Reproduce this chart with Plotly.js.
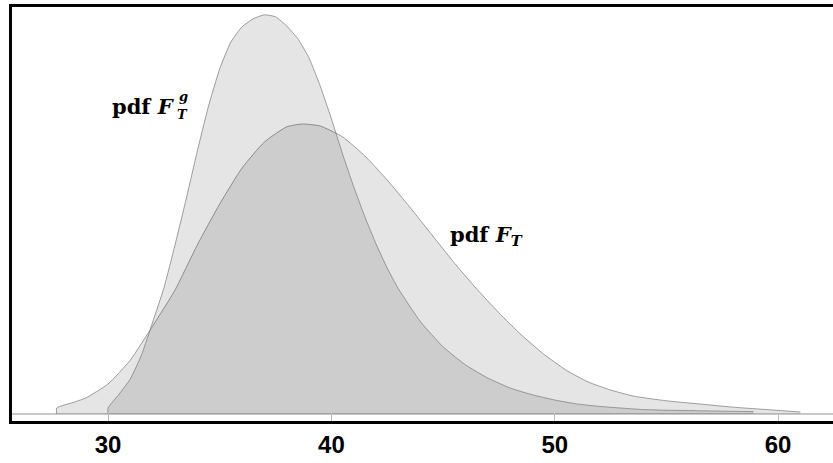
<!DOCTYPE html>
<html>
<head>
<meta charset="utf-8">
<script src="https://cdn.plot.ly/plotly-3.0.1.min.js"></script>
<style>html,body{margin:0;padding:0;background:#fff;}#chart{width:833px;height:463px;}</style>
</head>
<body>
<div id="chart"></div>
<script>
// pdf F_T (wide curve)
const xFT = [27.7, 27.7, 28.5, 29, 30, 31, 32, 33, 34, 35, 36, 37, 38, 38.7, 39.5, 40.5, 41.5, 42.5, 43.5, 44.5, 45.5, 46.5, 47.5, 48.5, 49.5, 50.5, 51.5, 52.5, 53.5, 55, 56.5, 58, 59.5, 61];
const yFT = [0, .0015, .003, .004, .0075, .0135, .022, .031, .0423, .0525, .0615, .068, .0718, .0725, .072, .0693, .0645, .0585, .0518, .0448, .0378, .0313, .0253, .0198, .015, .011, .008, .006, .0045, .0033, .0025, .0017, .0011, .0005];
// pdf F_T^g (narrow curve)
const xFTg = [30, 30, 30.5, 31, 31.5, 32, 32.5, 33, 33.5, 34, 34.5, 35, 35.5, 36, 36.5, 37, 37.5, 38, 38.5, 39, 39.5, 40, 40.5, 41, 41.5, 42, 42.5, 43, 44, 45, 46, 47, 48, 49, 50, 51, 52, 54, 56.5, 58.9];
const yFTg = [0, .0015, .005, .0088, .0148, .023, .0315, .0423, .0538, .0658, .077, .0863, .093, .0968, .0988, .0998, .0993, .097, .0938, .089, .082, .0738, .065, .0568, .0493, .0425, .0365, .0313, .023, .0168, .0123, .009, .0065, .0048, .0035, .0025, .0019, .0011, .0008, .0006];
const tickVals = [30, 40, 50, 60];
const tickText = ['30', '40', '50', '60'];

const fillCol = 'rgba(0,0,0,0.1)';
const lineCol = 'rgba(120,120,120,0.7)';

const traces = [
  {x: xFT, y: yFT, type: 'scatter', mode: 'lines', fill: 'tozeroy', fillcolor: fillCol,
   line: {color: lineCol, width: 1, shape: 'spline', smoothing: 0.5}, hoverinfo: 'skip', name: 'pdf F_T'},
  {x: xFTg, y: yFTg, type: 'scatter', mode: 'lines', fill: 'tozeroy', fillcolor: fillCol,
   line: {color: lineCol, width: 1, shape: 'spline', smoothing: 0.5}, hoverinfo: 'skip', name: 'pdf F_T^g'}
];

const W = 833, H = 463, L = 12, R = 0, T = 7, B = 42;
const pw = W - L - R, ph = H - T - B;
const px = v => (v - L) / pw;
const py = v => (H - B - v) / ph;
const lab = {family: 'DejaVu Serif', size: 21, color: '#000', weight: 'bold'};
const sm = {family: 'DejaVu Serif', size: 13, color: '#000', weight: 'bold', style: 'italic'};

const layout = {
  width: W, height: H,
  margin: {l: L, r: R, t: T, b: B, pad: 0},
  paper_bgcolor: '#fff', plot_bgcolor: '#fff',
  showlegend: false,
  xaxis: {range: [25.7, 62.46], tickvals: tickVals, ticktext: tickText,
    ticks: 'inside', ticklen: 8, tickwidth: 1, tickcolor: '#bbbbbb',
    showgrid: false, zeroline: false,
    showline: true, linecolor: '#000', linewidth: 3, mirror: true,
    tickfont: {family: 'Liberation Sans', size: 24, color: '#000', weight: 'bold'}},
  yaxis: {range: [-0.00175, 0.10175], showticklabels: false, ticks: '',
    showgrid: false, zeroline: true, zerolinecolor: '#c8c8c8', zerolinewidth: 2,
    showline: true, linecolor: '#000', linewidth: 3, mirror: false},
  annotations: [
    {xref: 'paper', yref: 'paper', x: px(112), y: py(107), xanchor: 'left', yanchor: 'middle',
     text: 'pdf <i>F</i>', showarrow: false, font: lab, borderpad: 0, borderwidth: 0},
    {xref: 'paper', yref: 'paper', x: px(179), y: py(97), xanchor: 'left', yanchor: 'middle',
     text: 'g', showarrow: false, font: sm, borderpad: 0, borderwidth: 0},
    {xref: 'paper', yref: 'paper', x: px(177), y: py(114), xanchor: 'left', yanchor: 'middle',
     text: 'T', showarrow: false, font: sm, borderpad: 0, borderwidth: 0},
    {xref: 'paper', yref: 'paper', x: px(450), y: py(235), xanchor: 'left', yanchor: 'middle',
     text: 'pdf <i>F</i><sub><i>T</i></sub>', showarrow: false, font: lab, borderpad: 0, borderwidth: 0}
  ]
};

Plotly.newPlot('chart', traces, layout, {displayModeBar: false, staticPlot: true});
</script>
</body>
</html>
